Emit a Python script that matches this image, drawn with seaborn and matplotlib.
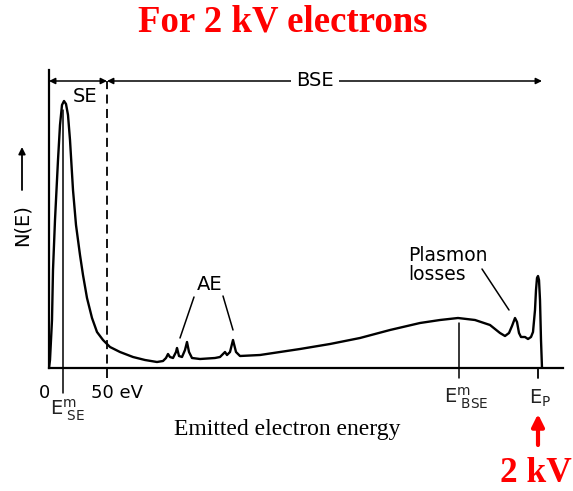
import matplotlib
matplotlib.use("Agg")
import matplotlib.pyplot as plt
import seaborn as sns
import pandas as pd

# Schematic energy position (arb. units) and N(E) (arb. units)
energy = [0, 1, 3, 4, 6, 9, 11, 13, 15, 17, 19, 21, 24, 27, 31, 34, 38, 43, 48, 54,
          61, 71, 84, 96, 108, 114, 117, 119, 121, 124, 127, 128, 130, 133, 136, 138, 140, 143, 151, 166,
          171, 174, 176, 178, 181, 184, 187, 191, 211, 231, 251, 281, 311, 341, 371, 391, 409, 426, 441, 451,
          456, 460, 463, 466, 468, 470, 472, 476, 479, 482, 484, 486, 487, 488, 489, 490, 491, 492, 493]
counts = [0, 8, 48, 98, 148, 208, 243, 263, 267, 264, 253, 228, 178, 143, 113, 93, 70, 50, 36, 28,
          21, 16, 11, 8, 6, 7, 10, 14, 11, 10, 16, 20, 12, 11, 18, 26, 16, 10, 9, 10,
          11, 14, 16, 13, 16, 28, 16, 12, 13, 16, 19, 24, 30, 38, 45, 48, 50, 48, 43, 35,
          32, 35, 42, 50, 46, 35, 31, 31, 29, 31, 36, 58, 78, 90, 92, 88, 68, 28, 0]

# Characteristic energies (same arb. units)
E_50eV = 58
E_m_SE = 14
E_m_BSE = 410
E_p = 489
E_end = 493
bracket_level = 287

sns.set_theme(style="white")
plt.rcParams['font.family'] = ['DejaVu Sans']
plt.rcParams['mathtext.fontset'] = 'dejavusans'
plt.rcParams['text.color'] = 'black'

fig = plt.figure(figsize=(5.73, 4.91), dpi=100)
ax = fig.add_axes([49 / 573, 123 / 491, 514 / 573, 298 / 491])

df = pd.DataFrame({"E": energy, "N": counts})
sns.lineplot(data=df, x="E", y="N", color="black", lw=1.7, ax=ax,
             solid_joinstyle="round", solid_capstyle="round")

ax.set_xlim(0, 514)
ax.set_ylim(0, 298)
ax.set_xticks([])
ax.set_yticks([])
ax.set_xlabel("")
ax.set_ylabel("")
for s in ["top", "right"]:
    ax.spines[s].set_visible(False)
for s in ["left", "bottom"]:
    ax.spines[s].set_color("black")
    ax.spines[s].set_linewidth(1.6)

kw = dict(color="black", clip_on=False)
# vertical markers
ax.plot([E_m_SE, E_m_SE], [-25, 258], lw=1.1, **kw)
ax.plot([E_m_BSE, E_m_BSE], [-10, 45], lw=1.1, **kw)
ax.plot([E_p, E_p], [-10, 0], lw=1.3, **kw)
ax.plot([E_50eV, E_50eV], [-10, bracket_level], lw=1.3, ls=(0, (5, 3)), **kw)

# top brackets
ap = dict(arrowstyle="<|-|>", color="black", lw=1.1, mutation_scale=9, shrinkA=0, shrinkB=0)
ax.annotate("", xy=(0, bracket_level), xytext=(E_50eV, bracket_level),
            arrowprops=ap, annotation_clip=False)
ax.annotate("", xy=(E_50eV, bracket_level), xytext=(E_end, bracket_level),
            arrowprops=ap, annotation_clip=False)
ax.plot([0, 0], [bracket_level - 6, bracket_level + 6], lw=1.2, **kw)
ax.text(36, 272, "SE", fontsize=14, ha="center", va="center")
ax.text(266, bracket_level, "BSE", fontsize=14, ha="center", va="center",
        bbox=dict(facecolor="white", edgecolor="none", pad=4))

# AE annotation
ax.text(161, 83, "AE", fontsize=14, ha="center", va="center")
ax.plot([145, 131], [71, 30], lw=1.1, **kw)
ax.plot([174, 184], [72, 38], lw=1.1, **kw)

# Plasmon losses
ax.text(359, 103, "Plasmon\nlosses", fontsize=13.5, ha="left", va="center", linespacing=1.05)
ax.plot([433, 460], [99, 58], lw=1.1, **kw)

# axis labels
ax.text(-4, -25, "0", fontsize=13, ha="center", va="center")
ax.text(68, -25, "50 eV", fontsize=13, ha="center", va="center")
ax.text(19, -42, r"E$^{\rm m}_{\ \rm SE}$", fontsize=14, ha="center", va="center", color="#222222")
ax.text(417, -30, r"E$^{\rm m}_{\ \rm BSE}$", fontsize=14, ha="center", va="center", color="#222222")
ax.text(E_p + 2, -30, r"E$_{\rm P}$", fontsize=14, ha="center", va="center", color="#222222")
ax.text(-27, 143, "N(E)", fontsize=14, rotation=90, ha="center", va="center")
ax.annotate("", xy=(-27, 221), xytext=(-27, 178),
            arrowprops=dict(arrowstyle="-|>", color="black", lw=1.3, mutation_scale=10,
                            shrinkA=0, shrinkB=0), annotation_clip=False)

# red arrow to E_p
ax.annotate("", xy=(E_p, -46), xytext=(E_p, -77),
            arrowprops=dict(arrowstyle="-|>", color="red", lw=3, mutation_scale=18,
                            shrinkA=0, shrinkB=0), annotation_clip=False)

fig.text(283 / 573, 1 - 22 / 491, "For 2 kV electrons", color="red", fontsize=26.5,
         fontweight="bold", family="Liberation Serif", ha="center", va="center")
fig.text(536 / 573, 1 - 474 / 491, "2 kV", color="red", fontsize=25.5,
         fontweight="bold", family="Liberation Serif", ha="center", va="center")
fig.text(287 / 573, 1 - 430 / 491, "Emitted electron energy", color="black", fontsize=17,
         family="Liberation Serif", ha="center", va="center")

fig.savefig("out.png", dpi=100)
